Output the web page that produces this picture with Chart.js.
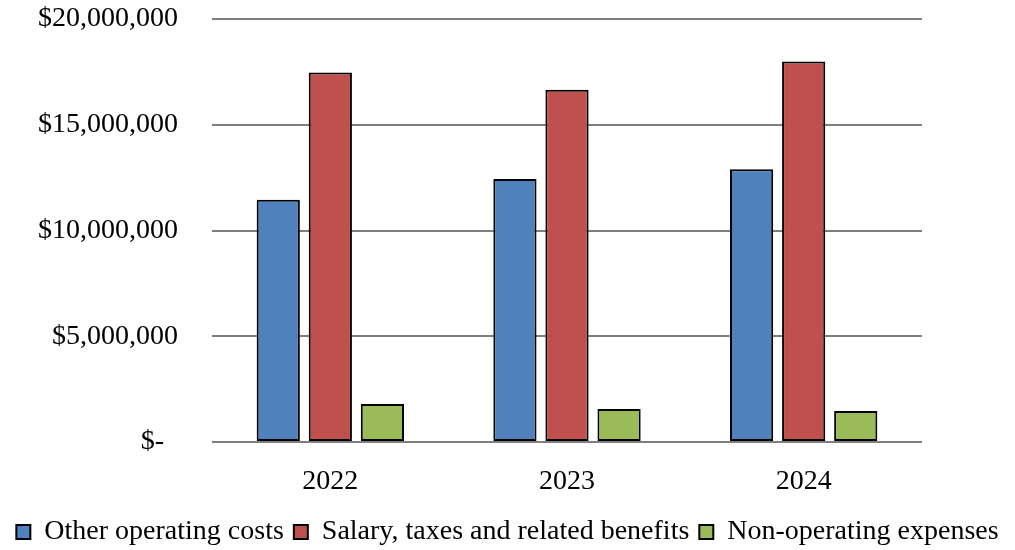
<!DOCTYPE html>
<html>
<head>
<meta charset="utf-8">
<script src="https://cdn.jsdelivr.net/npm/chart.js@4"></script>
<style>
  html, body { margin: 0; padding: 0; background: #fff; }
  #wrap { width: 1015px; height: 550px; }
</style>
</head>
<body>
<div id="wrap"><canvas id="chart" width="1015" height="550"></canvas></div>
<script>
// Years on the x axis
const years = ["2022", "2023", "2024"];

// Series values
const otherOperatingCosts = [11450000, 12440000, 12900000];
const salaryTaxesBenefits = [17470000, 16650000, 17990000];
const nonOperatingExpenses = [1800000, 1560000, 1470000];

// Y tick labels
const yTickLabels = {
  0: "$-  ",
  5000000: "$5,000,000",
  10000000: "$10,000,000",
  15000000: "$15,000,000",
  20000000: "$20,000,000",
};

const serif = "'Liberation Serif', 'Times New Roman', serif";

// draw the zero line again on top of the bars, like the original
const zeroLineOnTop = {
  id: "zeroLineOnTop",
  afterDatasetsDraw(chart) {
    const { ctx, chartArea, scales } = chart;
    const y = scales.y.getPixelForValue(0);
    ctx.save();
    ctx.strokeStyle = "#7f7f7f";
    ctx.lineWidth = 2;
    ctx.beginPath();
    ctx.moveTo(chartArea.left, y);
    ctx.lineTo(chartArea.right, y);
    ctx.stroke();
    ctx.restore();
  },
};

const ctx = document.getElementById("chart").getContext("2d");

new Chart(ctx, {
  type: "bar",
  data: {
    labels: years,
    datasets: [
      {
        label: "Other operating costs",
        data: otherOperatingCosts,
        backgroundColor: "#4F81BD",
      },
      {
        label: "Salary, taxes and related benefits",
        data: salaryTaxesBenefits,
        backgroundColor: "#C0504D",
      },
      {
        label: "Non-operating expenses",
        data: nonOperatingExpenses,
        backgroundColor: "#9BBB59",
      },
    ],
  },
  options: {
    responsive: false,
    animation: false,
    categoryPercentage: 0.66,
    barPercentage: 0.83,
    elements: {
      bar: {
        borderColor: "#000",
        borderWidth: 2,
        borderSkipped: false,
      },
    },
    layout: {
      padding: { left: 0, right: 0, top: 19, bottom: -6 },
    },
    plugins: {
      tooltip: { enabled: false },
      legend: {
        position: "bottom",
        labels: {
          color: "#000",
          font: { family: serif, size: 28 },
          boxWidth: 14,
          boxHeight: 14,
          padding: 10,
        },
      },
    },
    scales: {
      x: {
        grid: { display: false },
        border: { display: false },
        ticks: {
          color: "#000",
          font: { family: serif, size: 28 },
          padding: 15,
        },
        afterFit: (scale) => { scale.height = 66; },
      },
      y: {
        min: 0,
        max: 20000000,
        border: { display: false },
        grid: {
          color: "#7f7f7f",
          lineWidth: 2,
          drawTicks: false,
        },
        ticks: {
          stepSize: 5000000,
          color: "#000",
          font: { family: serif, size: 28 },
          padding: 34,
          callback: (value) => yTickLabels[value],
        },
        afterFit: (scale) => {
          scale.width = 212;
          scale.paddingTop = 0;
          scale.paddingBottom = 0;
        },
      },
      // empty axis used only to keep the right margin
      yRight: {
        position: "right",
        display: true,
        grid: { display: false },
        border: { display: false },
        ticks: { display: false },
        afterFit: (scale) => { scale.width = 93; },
      },
    },
  },
  plugins: [zeroLineOnTop],
});
</script>
</body>
</html>
